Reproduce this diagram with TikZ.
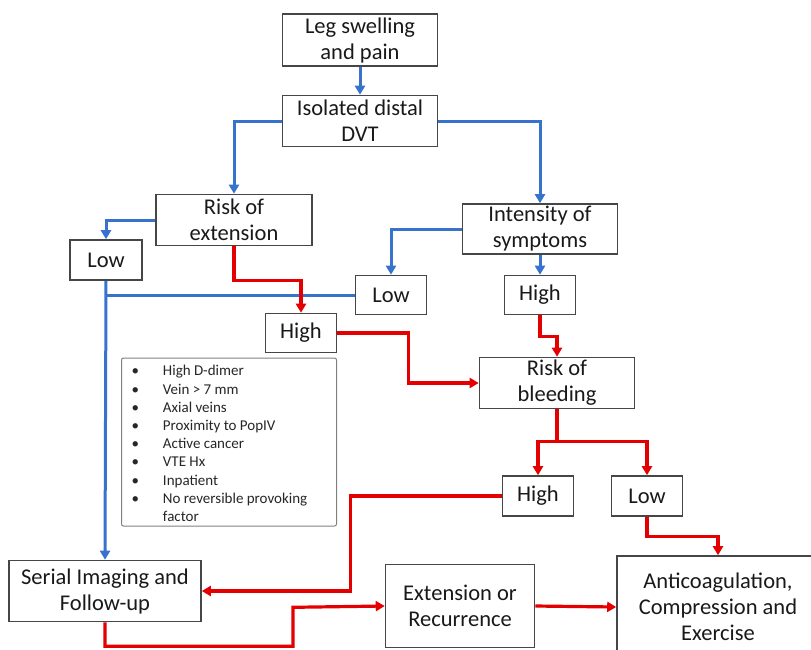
\documentclass[tikz,border=0pt]{standalone}
\usepackage{fontspec}
\setmainfont{Carlito}
\usetikzlibrary{arrows.meta}
\definecolor{flowblue}{RGB}{55,115,205}
\definecolor{flowred}{RGB}{228,0,0}
\definecolor{boxgray}{RGB}{70,70,70}
\begin{document}
\begin{tikzpicture}[x = 1pt, y = -1pt,
    box/.style = {draw = boxgray, line width = 1.6pt, align = center, inner sep = 0pt, text = black!90, font = \fontsize{22.5}{26}\selectfont},
    blueline/.style = {flowblue, line width = 3pt},
    redline/.style = {flowred, line width = 3.2pt},
    tip/.style = {-{Triangle[length = 9pt, width = 10pt]}}]
  \useasboundingbox (0, 0) rectangle (811, 649);
  \node[box, minimum width = 155pt, minimum height = 52pt] (leg) at (360, 40) {Leg swelling\\and pain};
  \node[box, minimum width = 155pt, minimum height = 51pt] (idvt) at (360, 121) {Isolated distal\\DVT};
  \node[box, minimum width = 156pt, minimum height = 51pt] (riskext) at (234, 220) {Risk of\\extension};
  \node[box, minimum width = 72pt, minimum height = 40pt] (lowa) at (106, 260) {Low};
  \node[box, minimum width = 155pt, minimum height = 50pt] (intens) at (540, 229) {Intensity of\\symptoms};
  \node[box, minimum width = 71pt, minimum height = 39pt] (lowb) at (391, 295) {Low};
  \node[box, minimum width = 71pt, minimum height = 39pt] (highb) at (540, 295) {High};
  \node[box, minimum width = 71pt, minimum height = 39pt] (higha) at (301, 333) {High};
  \node[box, minimum width = 155pt, minimum height = 51pt] (bleed) at (557, 383) {Risk of\\bleeding};
  \node[draw = gray, line width = 1pt, rounded corners = 2pt, minimum height = 168pt, inner xsep = 10pt, inner ysep = 0pt, text width = 195pt, align = left, text = black!85] (factors) at (229, 442)
    {\fontsize{15}{18.2}\selectfont
     \raisebox{-3pt}[\height][\depth]{\begin{tabular}{@{}l@{\hspace{24pt}}l@{}}
       \textbullet & High D-dimer\\
       \textbullet & Vein > 7 mm\\
       \textbullet & Axial veins\\
       \textbullet & Proximity to PopIV\\
       \textbullet & Active cancer\\
       \textbullet & VTE Hx\\
       \textbullet & Inpatient\\
       \textbullet & No reversible provoking\\
                   & factor
     \end{tabular}}};
  \node[box, minimum width = 71pt, minimum height = 40pt] (highc) at (538, 496) {High};
  \node[box, minimum width = 71pt, minimum height = 40pt] (lowc) at (647, 496) {Low};
  \node[box, minimum width = 192pt, minimum height = 61pt] (serial) at (105, 591) {Serial Imaging and\\Follow-up};
  \node[box, minimum width = 149pt, minimum height = 83pt] (ext) at (460, 606) {Extension or\\Recurrence};
  \node[box, minimum width = 202pt, minimum height = 102pt] (anti) at (718, 607) {Anticoagulation,\\Compression and\\Exercise};
  \draw[blueline, tip] (leg.south) -- (idvt.north);
  \draw[blueline, tip] (idvt.west) -| (riskext.north);
  \draw[blueline, tip] (idvt.east) -| (intens.north);
  \draw[blueline, tip] (riskext.west) -| (lowa.north);
  \draw[blueline, tip] (intens.west) -| (lowb.north);
  \draw[blueline, tip] (intens.south) -- (highb.north);
  \draw[blueline, tip] (lowa.south) -- (serial.north);
  \draw[blueline] (lowb.west) -- (lowb.west -| lowa.south);
  \draw[redline, tip] (riskext.south) -- ++(0, 34) -| (higha.north);
  \draw[redline, tip] (higha.east) -- ++(71, 0) |- (bleed.west);
  \draw[redline, tip] (highb.south) -- ++(0, 21) -| (bleed.north);
  \draw[redline, tip] (bleed.south) -- ++(0, 32) -| (highc.north);
  \draw[redline, tip] (bleed.south) -- ++(0, 32) -| (lowc.north);
  \draw[redline, tip] (highc.west) -- ++(-151, 0) |- (serial.east);
  \draw[redline, tip] (lowc.south) -- ++(0, 20) -| (anti.north);
  \draw[redline, tip] (serial.south) -- ++(0, 24) -| ++(188, -39) -- (ext.west);
  \draw[redline, tip] (ext.east) -- (anti.west);
\end{tikzpicture}
\end{document}
